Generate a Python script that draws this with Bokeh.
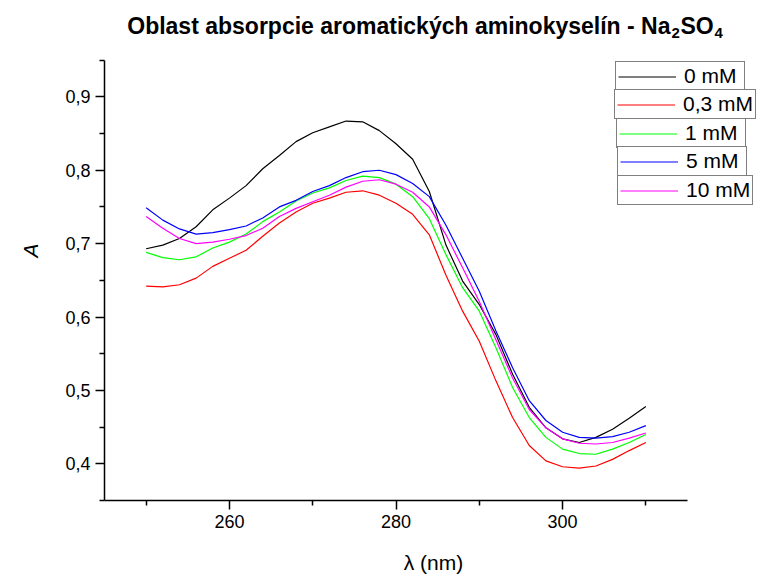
from bokeh.plotting import figure
from bokeh.models import (Range1d, FixedTicker, CustomJSTickFormatter, Legend,
                          LegendItem, Label)
from bokeh.embed import file_html
from bokeh.resources import INLINE

# ---- data ----
wavelength = [250, 252, 254, 256, 258, 260, 262, 264, 266, 268, 270, 272, 274,
              276, 278, 280, 282, 284, 286, 288, 290, 292, 294, 296, 298, 300,
              302, 304, 306, 308, 310]
a_0mM = [0.693, 0.698, 0.707, 0.723, 0.746, 0.762, 0.779, 0.802, 0.820, 0.839,
         0.851, 0.859, 0.867, 0.866, 0.854, 0.836, 0.815, 0.771, 0.698, 0.649,
         0.617, 0.576, 0.522, 0.477, 0.449, 0.434, 0.429, 0.436, 0.447, 0.462,
         0.478]
a_03mM = [0.642, 0.641, 0.644, 0.653, 0.669, 0.680, 0.691, 0.710, 0.728, 0.743,
          0.755, 0.762, 0.770, 0.772, 0.766, 0.755, 0.740, 0.712, 0.657, 0.608,
          0.567, 0.513, 0.463, 0.425, 0.404, 0.396, 0.394, 0.397, 0.406, 0.418,
          0.429]
a_1mM = [0.688, 0.681, 0.678, 0.682, 0.694, 0.702, 0.713, 0.730, 0.743, 0.758,
         0.769, 0.776, 0.786, 0.792, 0.790, 0.781, 0.764, 0.734, 0.685, 0.640,
         0.608, 0.558, 0.504, 0.463, 0.436, 0.420, 0.414, 0.413, 0.420, 0.429,
         0.440]
a_5mM = [0.749, 0.732, 0.720, 0.713, 0.715, 0.719, 0.724, 0.735, 0.750, 0.759,
         0.771, 0.779, 0.790, 0.798, 0.800, 0.794, 0.782, 0.764, 0.725, 0.680,
         0.635, 0.581, 0.531, 0.486, 0.459, 0.443, 0.436, 0.435, 0.437, 0.443,
         0.452]
a_10mM = [0.737, 0.721, 0.707, 0.700, 0.702, 0.706, 0.711, 0.721, 0.737, 0.748,
          0.757, 0.766, 0.777, 0.785, 0.787, 0.781, 0.770, 0.750, 0.712, 0.667,
          0.621, 0.569, 0.517, 0.474, 0.449, 0.434, 0.428, 0.427, 0.429, 0.435,
          0.442]
series_labels = ["0 mM", "0,3 mM", "1 mM", "5 mM", "10 mM"]
series_colors = ["#000000", "#ff0000", "#00ff00", "#0000ff", "#ff00ff"]
x_major = [260, 280, 300]
x_minor = [250, 270, 290, 310]
y_major = [0.4, 0.5, 0.6, 0.7, 0.8, 0.9]
y_minor = [0.35, 0.45, 0.55, 0.65, 0.75, 0.85, 0.95]
title_main = "Oblast absorpcie aromatických aminokyselín - Na"
title_parts = ["2", "SO", "4"]

# axis extents (drawn part) and pixel layout
X0, X1 = 245, 315
Y0, Y1 = 0.35, 0.95
W, H = 762, 576
AX_LEFT, AX_RIGHT, AX_TOP, AX_BOTTOM = 104, 687, 60, 503  # pixel box of the axes
BL, BB = AX_LEFT, H - AX_BOTTOM

# the frame spans up to the canvas top/right so that the title and legend fit
ppx = (AX_RIGHT - AX_LEFT) / (X1 - X0)
ppy = (AX_BOTTOM - AX_TOP) / (Y1 - Y0)
XR = X0 + (W - AX_LEFT) / ppx
YT = Y0 + AX_BOTTOM / ppy

p = figure(width=W, height=H, output_backend="svg", toolbar_location=None,
           x_range=Range1d(X0, XR), y_range=Range1d(Y0, YT),
           min_border_left=BL, min_border_right=0, min_border_top=0,
           min_border_bottom=BB, background_fill_color="white",
           border_fill_color="white")
p.outline_line_color = None
p.xgrid.visible = False
p.ygrid.visible = False


def dx(px):
    return X0 + (px - AX_LEFT) / ppx


def dy(py):
    return Y0 + (AX_BOTTOM - py) / ppy


renderers = []
for ys, col in zip([a_0mM, a_03mM, a_1mM, a_5mM, a_10mM], series_colors):
    r = p.line(wavelength, ys, line_color=col, line_width=1.2)
    renderers.append(r)

tick_font = "Liberation Sans"
for ax in (p.xaxis[0], p.yaxis[0]):
    ax.axis_line_width = 1.5
    ax.major_tick_line_width = 1.5
    ax.minor_tick_line_width = 1.5
    ax.major_tick_out = 9
    ax.major_tick_in = 0
    ax.minor_tick_out = 5
    ax.minor_tick_in = 0
    ax.major_label_text_font = tick_font
    ax.major_label_text_font_size = "18px"
    ax.major_label_text_color = "black"
    ax.major_label_standoff = 5
    ax.axis_label_text_font = tick_font
    ax.axis_label_text_font_size = "21px"
    ax.axis_label_text_color = "black"

p.xaxis[0].bounds = (X0, X1)
p.yaxis[0].bounds = (Y0, Y1)
p.xaxis[0].ticker = FixedTicker(ticks=x_major, minor_ticks=x_minor)
p.yaxis[0].ticker = FixedTicker(ticks=y_major, minor_ticks=y_minor)
p.yaxis[0].formatter = CustomJSTickFormatter(
    code="return tick.toFixed(1).replace('.', ',');")
p.xaxis[0].axis_label = "λ (nm)"
p.xaxis[0].axis_label_text_font_style = "normal"
p.xaxis[0].axis_label_standoff = 20
p.xaxis[0].axis_label_align = "center"
p.yaxis[0].axis_label = "A"
p.yaxis[0].axis_label_text_font_style = "italic"
p.yaxis[0].axis_label_standoff = 20

# ---- legend: one bordered box per item ----
legend_left = [615, 614, 616, 617, 617]
legend_bottom = [94, 122, 151, 179, 208]
for lab, r, lx, lb in zip(series_labels, renderers, legend_left, legend_bottom):
    lg = Legend(items=[LegendItem(label=lab, renderers=[r])],
                location=(lx - AX_LEFT, AX_BOTTOM - lb), margin=0, padding=2,
                spacing=0, glyph_width=58, glyph_height=21, label_height=21,
                label_width=58, label_standoff=8,
                label_text_font=tick_font, label_text_font_size="21px",
                label_text_color="black",
                border_line_color="black", border_line_width=1.2,
                background_fill_color="white", background_fill_alpha=1.0)
    p.add_layout(lg)

# ---- title with subscripts ----
title_font = "Liberation Sans"
anchor_px = 670
base_py = 26
common = dict(text_font=title_font, text_font_style="bold",
              text_baseline="alphabetic", text_color="black")
p.add_layout(Label(x=dx(anchor_px), y=dy(base_py), text=title_main,
                   text_font_size="23px", text_align="right", **common))
p.add_layout(Label(x=dx(anchor_px + 1), y=dy(base_py + 7), text=title_parts[0],
                   text_font_size="15px", text_align="left", **common))
p.add_layout(Label(x=dx(anchor_px + 10), y=dy(base_py), text=title_parts[1],
                   text_font_size="23px", text_align="left", **common))
p.add_layout(Label(x=dx(anchor_px + 44), y=dy(base_py + 7), text=title_parts[2],
                   text_font_size="15px", text_align="left", **common))

open("out.html", "w").write(file_html(p, INLINE))
